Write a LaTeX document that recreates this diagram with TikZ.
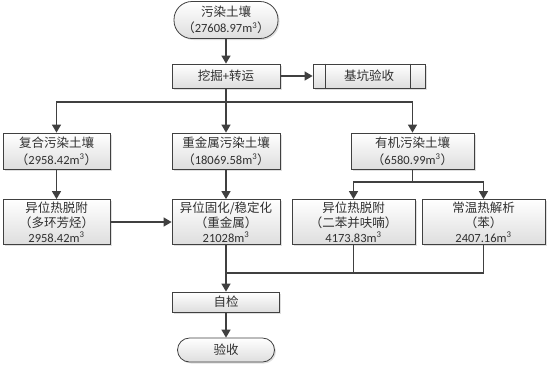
\documentclass[tikz,border=0pt]{standalone}
\usepackage{fontspec}
\setmainfont{Carlito}
\newfontfamily\cjk{Noto Sans CJK SC}
\usetikzlibrary{arrows.meta,calc,shadows}
\definecolor{ln}{HTML}{404040}
\definecolor{tx}{HTML}{303030}
\newcommand{\zh}[1]{{\cjk #1}}
\newcommand{\cube}{m\textsuperscript{3}}
\begin{document}
\begin{tikzpicture}[x=1pt,y=-1pt,
  box/.style={draw=ln,line width=0.8pt,top color=white,bottom color=black!13,
    drop shadow={shadow xshift=1.5pt,shadow yshift=-1.5pt,opacity=0.25},
    align=center,text=tx,font=\fontsize{12.5}{15}\selectfont,inner sep=0pt},
  term/.style={box,rounded corners=12pt},
  con/.style={draw=ln,line width=1.4pt},
  arr/.style={con,-{Triangle[width=9pt,length=8pt]}}]
\useasboundingbox (0,0) rectangle (551,368);
\node[term,rounded corners=18pt,minimum width=104pt,minimum height=37pt,font=\fontsize{12.5}{16.5}\selectfont] (top) at (226,20) {\zh{污染土壤}\\\zh{（}27608.97\cube\zh{）}};
\node[box,minimum width=108pt,minimum height=24pt] (wj) at (226,76) {\zh{挖掘}+\zh{转运}};
\node[box,minimum width=112pt,minimum height=24pt] (jk) at (369,76) {\zh{基坑验收}};
\draw[ln,line width=0.8pt] ($(jk.north west)+(13,0)$) -- ($(jk.south west)+(13,0)$);
\draw[ln,line width=0.8pt] ($(jk.north east)+(-15,0)$) -- ($(jk.south east)+(-15,0)$);

\node[box,minimum width=107pt,minimum height=36pt,font=\fontsize{12.5}{17}\selectfont] (fh) at (56.5,151) {\zh{复合污染土壤}\\\zh{（}2958.42\cube\zh{）}};
\node[box,minimum width=108pt,minimum height=36pt,font=\fontsize{12.5}{17}\selectfont] (zj) at (226,151) {\zh{重金属污染土壤}\\\zh{（}18069.58\cube\zh{）}};
\node[box,minimum width=123pt,minimum height=36pt,font=\fontsize{12.5}{17}\selectfont] (yj) at (412.5,151) {\zh{有机污染土壤}\\\zh{（}6580.99\cube\zh{）}};

\node[box,minimum width=107pt,minimum height=45pt] (l3) at (56.5,222) {\zh{异位热脱附}\\\zh{（多环芳烃）}\\2958.42\cube};
\node[box,minimum width=108pt,minimum height=45pt] (m3) at (226,222) {\zh{异位固化/稳定化}\\\zh{（重金属）}\\21028\cube};
\node[box,minimum width=123pt,minimum height=45pt] (r1) at (353.5,222) {\zh{异位热脱附}\\\zh{（二苯并呋喃）}\\4173.83\cube};
\node[box,minimum width=123pt,minimum height=45pt] (r2) at (483.5,222) {\zh{常温热解析}\\\zh{（苯）}\\2407.16\cube};

\node[box,minimum width=107pt,minimum height=20pt] (zc) at (226,302) {\zh{自检}};
\node[term,minimum width=97pt,minimum height=24pt] (ys) at (226,350) {\zh{验收}};

\coordinate (s1) at (226,102);
\coordinate (s2) at (412.5,182);
\coordinate (mg) at (226,273);

\draw[arr] (top) -- (wj);
\draw[arr] (wj) -- (jk);
\draw[arr] (wj) -- (zj);
\draw[arr] (s1) -| (fh.north);
\draw[arr] (s1) -| (yj.north);
\draw[arr] (fh) -- (l3);
\draw[arr] (zj) -- (m3);
\draw[con] (yj) -- (s2);
\draw[arr] (s2) -| (r1.north);
\draw[arr] (s2) -| (r2.north);
\draw[arr] (l3) -- (m3);
\draw[arr] (m3) -- (zc);
\draw[con] (r1.south) |- (mg);
\draw[con] (r2.south) |- (mg);
\draw[arr] (zc) -- (ys);
\end{tikzpicture}
\end{document}
